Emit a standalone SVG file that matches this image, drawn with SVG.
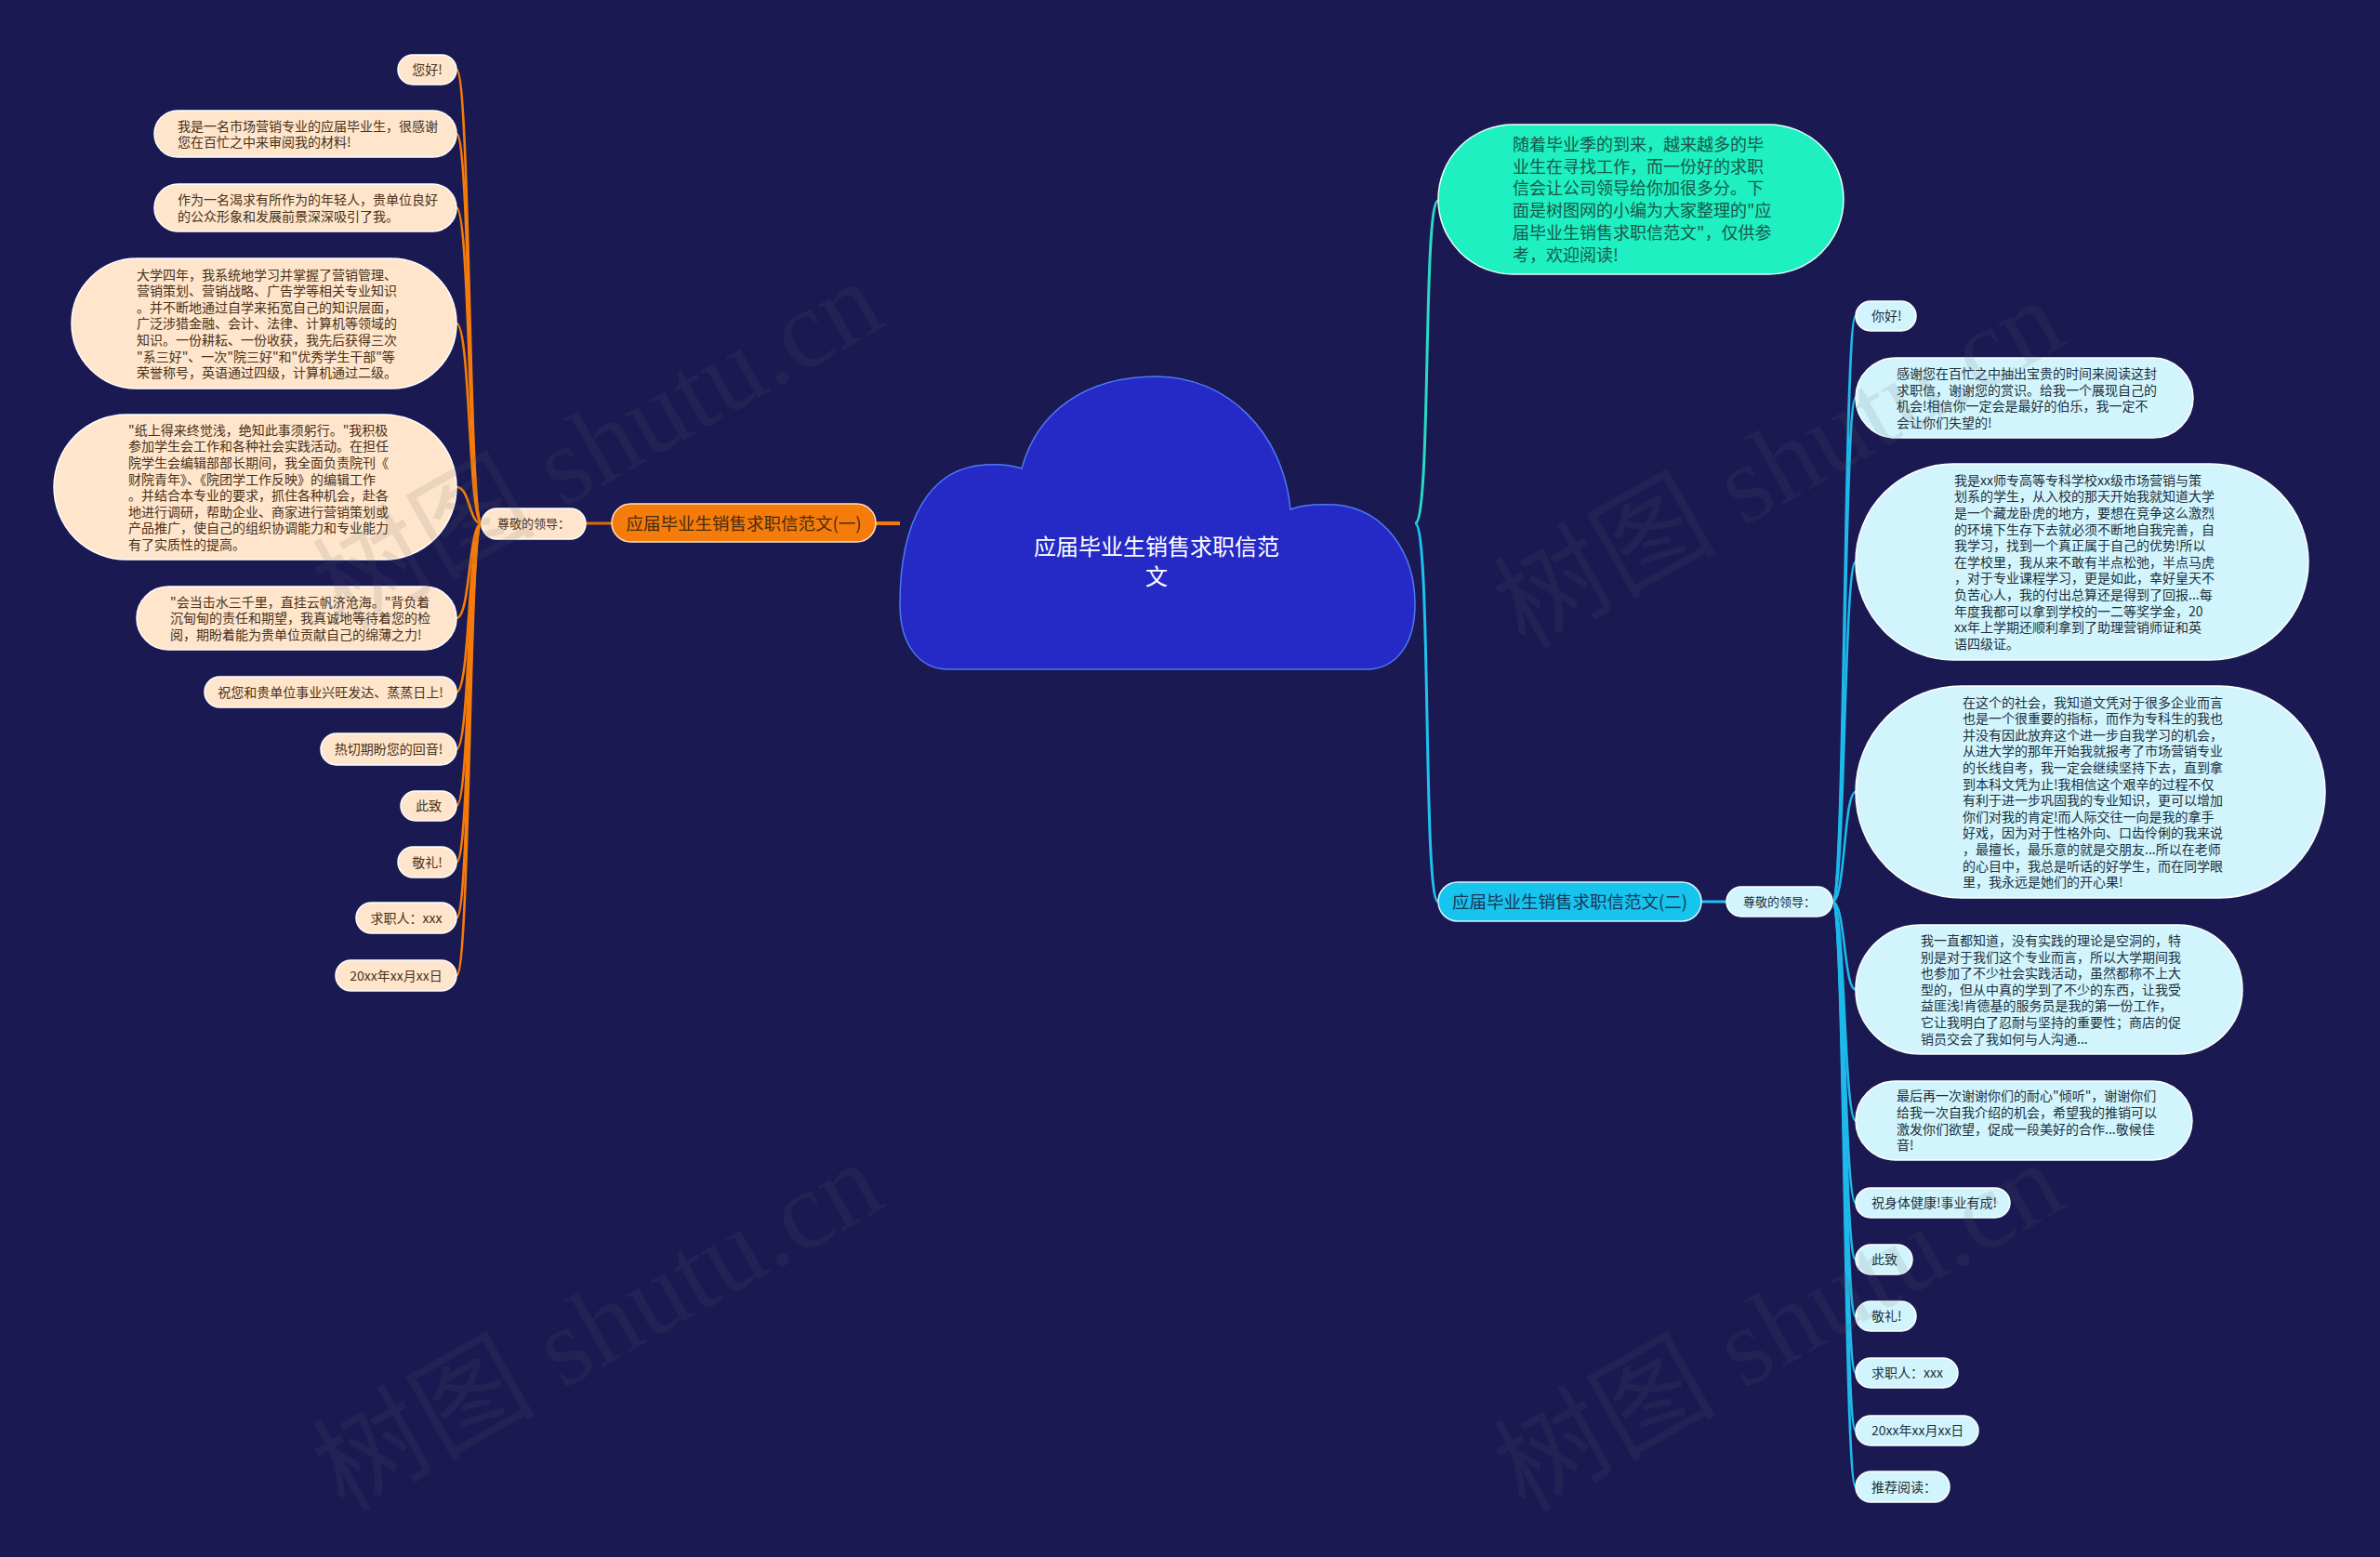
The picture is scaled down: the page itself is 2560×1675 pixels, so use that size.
<svg xmlns="http://www.w3.org/2000/svg" width="2560" height="1675" viewBox="0 0 2560 1675">
<style>
text{font-family:"Noto Sans CJK SC","Noto Sans",sans-serif}
.lf{fill:#fee5cb;stroke:#ffffff;stroke-width:1.5}
.lt{fill:#4a3118;font-size:14px}
.rf{fill:#d2f5fd;stroke:#ffffff;stroke-width:1.5}
.rt{fill:#1d2f3c;font-size:14px}
.oc{fill:none;stroke:#f57c0a;stroke-width:2.6}
.bc{fill:none;stroke:#1db9ea;stroke-width:2.6}
.wm{font-family:"Liberation Serif","Noto Sans CJK SC",serif;font-size:120px;fill:#666;fill-opacity:0.13}
</style>
<rect x="0" y="0" width="2560" height="1675" fill="#1a1952"/>

<g id="connectors">
  <path d="M968,563 L942,563" stroke="#f57c0a" stroke-width="4" fill="none"/>
  <path d="M658,563 L630,563" stroke="#e06a08" stroke-width="3" fill="none"/>
  <path class="oc" d="M518,563 C504,563 506,75 491,75"/>
  <path class="oc" d="M518,563 C504,563 506,144 491,144"/>
  <path class="oc" d="M518,563 C504,563 506,223.5 491,223.5"/>
  <path class="oc" d="M518,563 C504,563 506,348 491,348"/>
  <path class="oc" d="M518,563 C504,563 506,524 491,524"/>
  <path class="oc" d="M518,563 C504,563 506,665 491,665"/>
  <path class="oc" d="M518,563 C504,563 506,744.5 491,744.5"/>
  <path class="oc" d="M518,563 C504,563 506,806 491,806"/>
  <path class="oc" d="M518,563 C504,563 506,867 491,867"/>
  <path class="oc" d="M518,563 C504,563 506,927.5 491,927.5"/>
  <path class="oc" d="M518,563 C504,563 506,987.5 491,987.5"/>
  <path class="oc" d="M518,563 C504,563 506,1049.5 491,1049.5"/>

  <path d="M1522,563 C1540,563 1530,216 1547,216" stroke="#2bd9c5" stroke-width="3" fill="none"/>
  <path d="M1522,563 C1540,563 1530,970 1547,970" stroke="#1ec2ee" stroke-width="3" fill="none"/>
  <path d="M1830,970 L1857,970" stroke="#1ec2ee" stroke-width="3" fill="none"/>

  <path class="bc" d="M1971,970 C1985,970 1983,340 1996,340"/>
  <path class="bc" d="M1971,970 C1985,970 1983,428 1996,428"/>
  <path class="bc" d="M1971,970 C1985,970 1983,604.5 1996,604.5"/>
  <path class="bc" d="M1971,970 C1985,970 1983,852 1996,852"/>
  <path class="bc" d="M1971,970 C1985,970 1983,1064.5 1996,1064.5"/>
  <path class="bc" d="M1971,970 C1985,970 1983,1205.5 1996,1205.5"/>
  <path class="bc" d="M1971,970 C1985,970 1983,1294 1996,1294"/>
  <path class="bc" d="M1971,970 C1985,970 1983,1355 1996,1355"/>
  <path class="bc" d="M1971,970 C1985,970 1983,1416 1996,1416"/>
  <path class="bc" d="M1971,970 C1985,970 1983,1477 1996,1477"/>
  <path class="bc" d="M1971,970 C1985,970 1983,1539 1996,1539"/>
  <path class="bc" d="M1971,970 C1985,970 1983,1599.5 1996,1599.5"/>
</g>

<g id="root">
  <path d="M1020,720 C990,720 968,695 968,650 C968,560 1000,503 1060,500 C1075,499 1090,501 1099,504 C1115,445 1165,405 1244,405 C1320,405 1380,465 1388,548 C1400,543 1415,542 1437,543 C1490,548 1522,595 1522,650 C1522,695 1500,720 1470,720 Z" fill="#2529c6" stroke="#4f78f5" stroke-width="1.5"/>
  <text x="1244" y="597" font-size="24" fill="#ffffff" text-anchor="middle">应届毕业生销售求职信范</text>
  <text x="1244" y="629" font-size="24" fill="#ffffff" text-anchor="middle">文</text>
</g>

<g id="branch1">
  <rect x="658" y="542" width="284" height="41" rx="20.5" fill="#f57c0a" stroke="#ffe3c4" stroke-width="1.5"/>
  <text x="800" y="570" font-size="18.5" fill="#4a2a10" text-anchor="middle">应届毕业生销售求职信范文(一)</text>
</g>
<g id="b1-greeting">
  <rect class="lf" x="518" y="547" width="112" height="33" rx="16.5"/>
  <text x="574" y="568" font-size="13" fill="#4a3118" text-anchor="middle">尊敬的领导：</text>
</g>

<g id="l1"><rect class="lf" x="428" y="59" width="63" height="32" rx="16"/><text class="lt" x="459.5" y="80.3" text-anchor="middle">您好!</text></g>
<g id="l2"><rect class="lf" x="166" y="119" width="325" height="50" rx="25"/>
  <text class="lt"><tspan x="191" y="140.5">我是一名市场营销专业的应届毕业生，很感谢</tspan><tspan x="191" y="158.1">您在百忙之中来审阅我的材料!</tspan></text></g>
<g id="l3"><rect class="lf" x="166" y="198" width="325" height="51" rx="25.5"/>
  <text class="lt"><tspan x="191" y="220">作为一名渴求有所作为的年轻人，贵单位良好</tspan><tspan x="191" y="237.6">的公众形象和发展前景深深吸引了我。</tspan></text></g>
<g id="l4"><rect class="lf" x="77" y="278" width="414" height="140" rx="70"/>
  <text class="lt"><tspan x="147" y="300.5">大学四年，我系统地学习并掌握了营销管理、</tspan><tspan x="147" y="318.1">营销策划、营销战略、广告学等相关专业知识</tspan><tspan x="147" y="335.7">。并不断地通过自学来拓宽自己的知识层面，</tspan><tspan x="147" y="353.3">广泛涉猎金融、会计、法律、计算机等领域的</tspan><tspan x="147" y="370.9">知识。一份耕耘、一份收获，我先后获得三次</tspan><tspan x="147" y="388.5">"系三好"、一次"院三好"和"优秀学生干部"等</tspan><tspan x="147" y="406.1">荣誉称号，英语通过四级，计算机通过二级。</tspan></text></g>
<g id="l5"><rect class="lf" x="58" y="446" width="433" height="156" rx="78"/>
  <text class="lt"><tspan x="138" y="467.7">"纸上得来终觉浅，绝知此事须躬行。"我积极</tspan><tspan x="138" y="485.3">参加学生会工作和各种社会实践活动。在担任</tspan><tspan x="138" y="502.9">院学生会编辑部部长期间，我全面负责院刊《</tspan><tspan x="138" y="520.5">财院青年》、《院团学工作反映》的编辑工作</tspan><tspan x="138" y="538.1">。并结合本专业的要求，抓住各种机会，赴各</tspan><tspan x="138" y="555.7">地进行调研，帮助企业、商家进行营销策划或</tspan><tspan x="138" y="573.3">产品推广，使自己的组织协调能力和专业能力</tspan><tspan x="138" y="590.9">有了实质性的提高。</tspan></text></g>
<g id="l6"><rect class="lf" x="147" y="631" width="344" height="68" rx="34"/>
  <text class="lt"><tspan x="183" y="652.7">"会当击水三千里，直挂云帆济沧海。"背负着</tspan><tspan x="183" y="670.3">沉甸甸的责任和期望，我真诚地等待着您的检</tspan><tspan x="183" y="687.9">阅，期盼着能为贵单位贡献自己的绵薄之力!</tspan></text></g>
<g id="l7"><rect class="lf" x="220" y="728" width="271" height="33" rx="16.5"/><text class="lt" x="355.5" y="749.8" text-anchor="middle">祝您和贵单位事业兴旺发达、蒸蒸日上!</text></g>
<g id="l8"><rect class="lf" x="345" y="789" width="146" height="34" rx="17"/><text class="lt" x="418" y="811.3" text-anchor="middle">热切期盼您的回音!</text></g>
<g id="l9"><rect class="lf" x="431" y="851" width="60" height="32" rx="16"/><text class="lt" x="461" y="872.3" text-anchor="middle">此致</text></g>
<g id="l10"><rect class="lf" x="428" y="911" width="63" height="33" rx="16.5"/><text class="lt" x="459.5" y="932.8" text-anchor="middle">敬礼!</text></g>
<g id="l11"><rect class="lf" x="383" y="971" width="108" height="33" rx="16.5"/><text class="lt" x="437" y="992.8" text-anchor="middle">求职人：xxx</text></g>
<g id="l12"><rect class="lf" x="361" y="1033" width="130" height="33" rx="16.5"/><text class="lt" x="426" y="1054.8" text-anchor="middle">20xx年xx月xx日</text></g>

<g id="intro">
  <rect x="1547" y="134" width="436" height="161" rx="80.5" fill="#1ef0c2" stroke="#e8fff8" stroke-width="1.5"/>
  <text font-size="18" fill="#1b5748"><tspan x="1627" y="162">随着毕业季的到来，越来越多的毕</tspan><tspan x="1627" y="185.7">业生在寻找工作，而一份好的求职</tspan><tspan x="1627" y="209.4">信会让公司领导给你加很多分。下</tspan><tspan x="1627" y="233.1">面是树图网的小编为大家整理的"应</tspan><tspan x="1627" y="256.8">届毕业生销售求职信范文"，仅供参</tspan><tspan x="1627" y="280.5">考，欢迎阅读!</tspan></text>
</g>

<g id="branch2">
  <rect x="1547" y="949" width="283" height="42" rx="21" fill="#17c4ee" stroke="#d8f6ff" stroke-width="1.5"/>
  <text x="1688.5" y="977" font-size="18.5" fill="#19375a" text-anchor="middle">应届毕业生销售求职信范文(二)</text>
</g>
<g id="b2-greeting">
  <rect class="rf" x="1857" y="954" width="114" height="32" rx="16"/>
  <text x="1914" y="975" font-size="13" fill="#1d2f3c" text-anchor="middle">尊敬的领导：</text>
</g>

<g id="r1"><rect class="rf" x="1996" y="324" width="65" height="32" rx="16"/><text class="rt" x="2013" y="345.3">你好!</text></g>
<g id="r2"><rect class="rf" x="1996" y="385" width="363" height="86" rx="43"/>
  <text class="rt"><tspan x="2040" y="406.9">感谢您在百忙之中抽出宝贵的时间来阅读这封</tspan><tspan x="2040" y="424.5">求职信，谢谢您的赏识。给我一个展现自己的</tspan><tspan x="2040" y="442.1">机会!相信你一定会是最好的伯乐，我一定不</tspan><tspan x="2040" y="459.7">会让你们失望的!</tspan></text></g>
<g id="r3"><rect class="rf" x="1996" y="499" width="487" height="211" rx="105.5"/>
  <text class="rt"><tspan x="2102" y="521.8">我是xx师专高等专科学校xx级市场营销与策</tspan><tspan x="2102" y="539.4">划系的学生，从入校的那天开始我就知道大学</tspan><tspan x="2102" y="557">是一个藏龙卧虎的地方，要想在竞争这么激烈</tspan><tspan x="2102" y="574.6">的环境下生存下去就必须不断地自我完善，自</tspan><tspan x="2102" y="592.2">我学习，找到一个真正属于自己的优势!所以</tspan><tspan x="2102" y="609.8">在学校里，我从来不敢有半点松弛，半点马虎</tspan><tspan x="2102" y="627.4">，对于专业课程学习，更是如此，幸好皇天不</tspan><tspan x="2102" y="645">负苦心人，我的付出总算还是得到了回报...每</tspan><tspan x="2102" y="662.6">年度我都可以拿到学校的一二等奖学金，20</tspan><tspan x="2102" y="680.2">xx年上学期还顺利拿到了助理营销师证和英</tspan><tspan x="2102" y="697.8">语四级证。</tspan></text></g>
<g id="r4"><rect class="rf" x="1996" y="738" width="505" height="228" rx="114"/>
  <text class="rt"><tspan x="2111" y="760.5">在这个的社会，我知道文凭对于很多企业而言</tspan><tspan x="2111" y="778.1">也是一个很重要的指标，而作为专科生的我也</tspan><tspan x="2111" y="795.7">并没有因此放弃这个进一步自我学习的机会，</tspan><tspan x="2111" y="813.3">从进大学的那年开始我就报考了市场营销专业</tspan><tspan x="2111" y="830.9">的长线自考，我一定会继续坚持下去，直到拿</tspan><tspan x="2111" y="848.5">到本科文凭为止!我相信这个艰辛的过程不仅</tspan><tspan x="2111" y="866.1">有利于进一步巩固我的专业知识，更可以增加</tspan><tspan x="2111" y="883.7">你们对我的肯定!而人际交往一向是我的拿手</tspan><tspan x="2111" y="901.3">好戏，因为对于性格外向、口齿伶俐的我来说</tspan><tspan x="2111" y="918.9">，最擅长，最乐意的就是交朋友...所以在老师</tspan><tspan x="2111" y="936.5">的心目中，我总是听话的好学生，而在同学眼</tspan><tspan x="2111" y="954.1">里，我永远是她们的开心果!</tspan></text></g>
<g id="r5"><rect class="rf" x="1996" y="995" width="416" height="139" rx="69.5"/>
  <text class="rt"><tspan x="2066" y="1017">我一直都知道，没有实践的理论是空洞的，特</tspan><tspan x="2066" y="1034.6">别是对于我们这个专业而言，所以大学期间我</tspan><tspan x="2066" y="1052.2">也参加了不少社会实践活动，虽然都称不上大</tspan><tspan x="2066" y="1069.8">型的，但从中真的学到了不少的东西，让我受</tspan><tspan x="2066" y="1087.4">益匪浅!肯德基的服务员是我的第一份工作，</tspan><tspan x="2066" y="1105">它让我明白了忍耐与坚持的重要性；商店的促</tspan><tspan x="2066" y="1122.6">销员交会了我如何与人沟通...</tspan></text></g>
<g id="r6"><rect class="rf" x="1996" y="1163" width="362" height="85" rx="42.5"/>
  <text class="rt"><tspan x="2040" y="1184.4">最后再一次谢谢你们的耐心"倾听"，谢谢你们</tspan><tspan x="2040" y="1202">给我一次自我介绍的机会，希望我的推销可以</tspan><tspan x="2040" y="1219.6">激发你们欲望，促成一段美好的合作...敬候佳</tspan><tspan x="2040" y="1237.2">音!</tspan></text></g>
<g id="r7"><rect class="rf" x="1996" y="1278" width="166" height="32" rx="16"/><text class="rt" x="2013" y="1299.3">祝身体健康!事业有成!</text></g>
<g id="r8"><rect class="rf" x="1996" y="1339" width="61" height="32" rx="16"/><text class="rt" x="2013" y="1360.3">此致</text></g>
<g id="r9"><rect class="rf" x="1996" y="1400" width="65" height="32" rx="16"/><text class="rt" x="2013" y="1421.3">敬礼!</text></g>
<g id="r10"><rect class="rf" x="1996" y="1461" width="110" height="32" rx="16"/><text class="rt" x="2013" y="1482.3">求职人：xxx</text></g>
<g id="r11"><rect class="rf" x="1996" y="1523" width="132" height="32" rx="16"/><text class="rt" x="2013" y="1544.3">20xx年xx月xx日</text></g>
<g id="r12"><rect class="rf" x="1996" y="1583" width="101" height="33" rx="16.5"/><text class="rt" x="2013" y="1604.8">推荐阅读：</text></g>

<g id="watermarks">
  <text class="wm" transform="translate(370,680) rotate(-29.5)">树图 shutu.cn</text>
  <text class="wm" transform="translate(370,1628) rotate(-29.5)">树图 shutu.cn</text>
  <text class="wm" transform="translate(1640,700) rotate(-29.5)">树图 shutu.cn</text>
  <text class="wm" transform="translate(1640,1628) rotate(-29.5)">树图 shutu.cn</text>
</g>
</svg>
